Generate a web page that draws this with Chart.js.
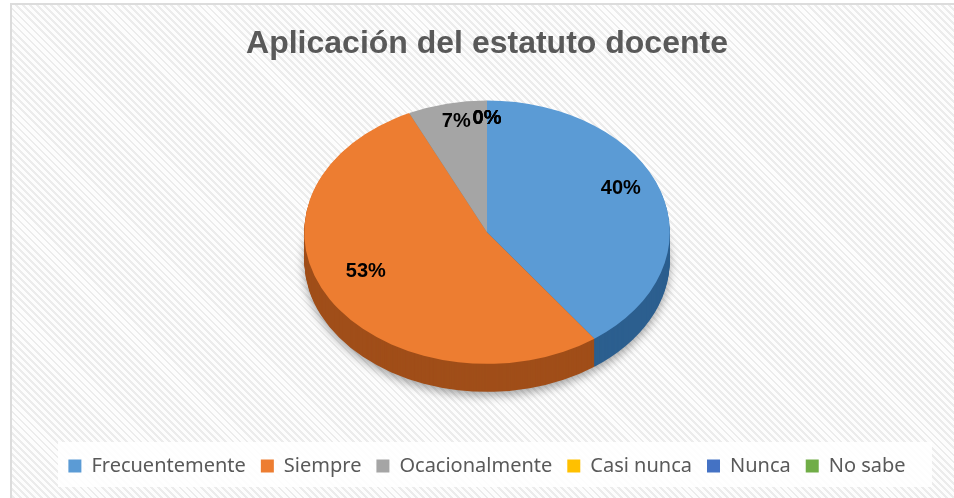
<!DOCTYPE html>
<html lang="es">
<head>
<meta charset="utf-8">
<title>Aplicación del estatuto docente</title>
<script src="https://cdn.jsdelivr.net/npm/chart.js@4"></script>
<style>
  html, body { margin: 0; padding: 0; }
  body {
    width: 954px; height: 498px; overflow: hidden; position: relative;
    background: #fff;
  }
  .frame {
    position: absolute; left: 10px; top: 3px; right: -4px; bottom: -4px;
    border-left: 2px solid #dcdcdc; border-top: 2px solid #dcdcdc;
    background: repeating-linear-gradient(45deg, #fdfdfd 0 3px, #ececec 3px 5px);
  }
  .legend-bg {
    position: absolute; left: 58px; top: 442px; width: 874px; height: 45px;
    background: rgba(255,255,255,0.9);
  }
  #wrap { position: absolute; left: 0; top: 0; width: 954px; height: 498px; }
</style>
</head>
<body>
<div class="frame"></div>
<div class="legend-bg"></div>
<div id="wrap"><canvas id="pie" width="954" height="498"></canvas></div>
<script>
// ── Data ─────────────────────────────────────────────────────────────────────

const CATEGORIES = ['Frecuentemente', 'Siempre', 'Ocacionalmente', 'Casi nunca', 'Nunca', 'No sabe'];
const PERCENTS   = [40, 53, 7, 0, 0, 0];

const COLORS      = ['#5b9bd5', '#ed7d31', '#a5a5a5', '#ffc000', '#4472c4', '#70ad47'];
const SIDE_COLORS = ['#2c5f8f', '#a04e19', '#747474', '#b38600', '#2c4f8c', '#4c7a2f'];

// ── 3D look: squash the library's circle into a tilted disc ─────────────────

const TILT  = 0.72;   // vertical squash
const LIFT  = -26;    // shift of the disc after squashing
const DEPTH = 28;     // thickness of the disc, px

function discTransform(ctx, arc) {
  ctx.translate(arc.x, arc.y + LIFT);
  ctx.scale(1, TILT);
  ctx.translate(-arc.x, -arc.y);
}

const pie3d = {
  id: 'pie3d',
  beforeDatasetsDraw(chart) {
    const ctx = chart.ctx;
    const arcs = chart.getDatasetMeta(0).data;
    ctx.save();
    discTransform(ctx, arcs[0]);
    for (let d = DEPTH; d >= 1; d--) {
      const off = d / TILT;
      arcs.forEach((arc, i) => {
        if (arc.endAngle - arc.startAngle <= 0) return;
        ctx.beginPath();
        ctx.moveTo(arc.x, arc.y + off);
        ctx.arc(arc.x, arc.y + off, arc.outerRadius, arc.startAngle, arc.endAngle);
        ctx.closePath();
        if (d === DEPTH) {
          ctx.shadowColor = 'rgba(0,0,0,0.35)';
          ctx.shadowBlur = 10;
          ctx.shadowOffsetY = 4;
        } else {
          ctx.shadowColor = 'transparent';
        }
        ctx.fillStyle = SIDE_COLORS[i];
        ctx.fill();
      });
    }
    ctx.shadowColor = 'transparent';
  },
  afterDatasetsDraw(chart) {
    const ctx = chart.ctx;
    ctx.restore();

    // percentage labels
    const arcs = chart.getDatasetMeta(0).data;
    ctx.save();
    ctx.font = 'bold 20px "Liberation Sans", Arial, sans-serif';
    ctx.fillStyle = '#000';
    ctx.textAlign = 'center';
    ctx.textBaseline = 'middle';
    arcs.forEach((arc, i) => {
      const mid = (arc.startAngle + arc.endAngle) / 2;
      const rr = arc.outerRadius * 0.77;
      const px = arc.x + Math.cos(mid) * rr;
      const py = arc.y + LIFT + Math.sin(mid) * rr * TILT - 12;
      ctx.fillText(PERCENTS[i] + '%', px, py);
    });
    ctx.restore();
  },
};

// ── Chart ────────────────────────────────────────────────────────────────────

new Chart(document.getElementById('pie'), {
  type: 'pie',
  data: {
    labels: CATEGORIES,
    datasets: [{
      data: PERCENTS,
      backgroundColor: COLORS,
      borderWidth: 0,
    }],
  },
  options: {
    responsive: false,
    animation: false,
    events: [],
    layout: { padding: { left: 20, right: 0, top: 0, bottom: 12 } },
    plugins: {
      title: {
        display: true,
        text: 'Aplicación del estatuto docente',
        color: '#595959',
        font: { family: '"Liberation Sans", Arial, sans-serif', size: 32, weight: 'bold' },
        padding: { top: 25, bottom: 12 },
      },
      legend: {
        position: 'bottom',
        labels: {
          color: '#595959',
          font: { family: '"Noto Sans", "Open Sans", sans-serif', size: 20 },
          boxWidth: 13,
          boxHeight: 13,
          padding: 15,
        },
      },
      tooltip: { enabled: false },
    },
  },
  plugins: [pie3d],
});
</script>
</body>
</html>
